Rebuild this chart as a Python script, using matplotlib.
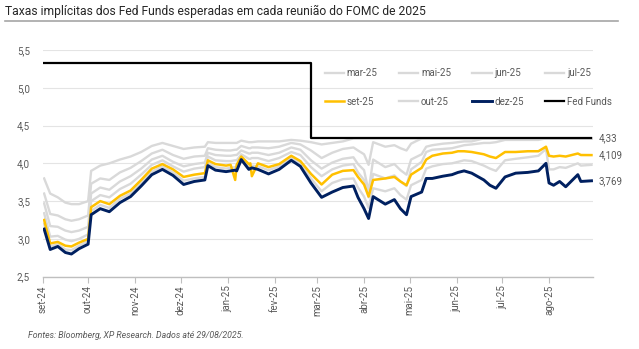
import matplotlib
matplotlib.use('Agg')
import matplotlib.pyplot as plt
import matplotlib.dates as mdates
from matplotlib.ticker import FuncFormatter
import pandas as pd

plt.rcParams['font.family'] = ['Roboto', 'DejaVu Sans']

# datas de amostragem (aprox. semanais, com pontos extras nos eventos)
datas = pd.to_datetime([
    '2024-09-02', '2024-09-06', '2024-09-11', '2024-09-16', '2024-09-20', '2024-09-25',
    '2024-10-01', '2024-10-03', '2024-10-09', '2024-10-15', '2024-10-22', '2024-10-29',
    '2024-11-05', '2024-11-12', '2024-11-19', '2024-11-26', '2024-12-03', '2024-12-10',
    '2024-12-17', '2024-12-19', '2024-12-24', '2024-12-31', '2025-01-03', '2025-01-06',
    '2025-01-07', '2025-01-10', '2025-01-15', '2025-01-16', '2025-01-17', '2025-01-21',
    '2025-01-28', '2025-02-04', '2025-02-12', '2025-02-18', '2025-02-25', '2025-03-04',
    '2025-03-11', '2025-03-18', '2025-03-25', '2025-03-28', '2025-04-01', '2025-04-04',
    '2025-04-07', '2025-04-15', '2025-04-21', '2025-04-25', '2025-04-29', '2025-05-02',
    '2025-05-09', '2025-05-12', '2025-05-16', '2025-05-23', '2025-05-29', '2025-06-02',
    '2025-06-06', '2025-06-11', '2025-06-19', '2025-06-23', '2025-06-27', '2025-07-03',
    '2025-07-10', '2025-07-18', '2025-07-25', '2025-07-30', '2025-08-01', '2025-08-04',
    '2025-08-08', '2025-08-12', '2025-08-20', '2025-08-22', '2025-08-29',
])

mar25 = [3.80, 3.60, 3.55, 3.48, 3.46, 3.46, 3.50, 3.90, 3.97, 4.00, 4.05, 4.09,
         4.15, 4.23, 4.27, 4.23, 4.19, 4.21, 4.22, 4.28, 4.27, 4.27, 4.27, 4.27,
         4.27, 4.30, 4.28, 4.28, 4.28, 4.29, 4.29, 4.29, 4.31, 4.30, 4.28, 4.25,
         4.27, 4.29, 4.33, 4.33, 4.33, 4.33, 4.33, 4.33, 4.33, 4.33, 4.33, 4.33,
         4.33, 4.33, 4.33, 4.33, 4.33, 4.33, 4.33, 4.33, 4.33, 4.33, 4.33, 4.33,
         4.33, 4.33, 4.33, 4.33, 4.33, 4.33, 4.33, 4.33, 4.33, 4.33, 4.33]
mai25 = [3.60, 3.33, 3.31, 3.26, 3.24, 3.26, 3.31, 3.73, 3.80, 3.78, 3.88, 3.94,
         4.03, 4.13, 4.18, 4.11, 4.06, 4.09, 4.10, 4.20, 4.18, 4.17, 4.17, 4.18,
         4.18, 4.23, 4.20, 4.20, 4.21, 4.21, 4.20, 4.22, 4.27, 4.25, 4.17, 4.07,
         4.14, 4.19, 4.21, 4.17, 4.12, 3.98, 4.28, 4.22, 4.24, 4.20, 4.17, 4.26,
         4.33, 4.33, 4.33, 4.33, 4.33, 4.33, 4.33, 4.33, 4.33, 4.33, 4.33, 4.33,
         4.33, 4.33, 4.33, 4.33, 4.33, 4.33, 4.33, 4.33, 4.33, 4.33, 4.33]
jun25 = [3.47, 3.17, 3.16, 3.11, 3.09, 3.11, 3.16, 3.60, 3.68, 3.65, 3.76, 3.83,
         3.93, 4.05, 4.10, 4.02, 3.96, 3.99, 4.01, 4.14, 4.11, 4.10, 4.10, 4.11,
         4.11, 4.17, 4.13, 4.13, 4.14, 4.14, 4.11, 4.14, 4.21, 4.18, 4.04, 3.93,
         4.01, 4.06, 4.08, 3.99, 3.91, 3.63, 4.05, 3.95, 3.99, 3.91, 3.85, 4.05,
         4.12, 4.22, 4.24, 4.26, 4.27, 4.28, 4.29, 4.29, 4.33, 4.33, 4.33, 4.33,
         4.33, 4.33, 4.33, 4.33, 4.33, 4.33, 4.33, 4.33, 4.33, 4.33, 4.33]
jul25 = [3.34, 3.03, 3.04, 2.99, 2.97, 3.00, 3.06, 3.50, 3.58, 3.55, 3.66, 3.73,
         3.85, 3.98, 4.04, 3.96, 3.89, 3.93, 3.95, 4.09, 4.04, 4.03, 4.03, 4.04,
         4.04, 4.12, 4.06, 4.06, 4.07, 4.07, 4.03, 4.07, 4.15, 4.11, 3.95, 3.83,
         3.92, 3.97, 3.99, 3.88, 3.78, 3.55, 3.86, 3.80, 3.84, 3.76, 3.70, 3.92,
         4.02, 4.15, 4.18, 4.19, 4.20, 4.22, 4.24, 4.25, 4.27, 4.27, 4.28, 4.31,
         4.31, 4.31, 4.31, 4.33, 4.33, 4.33, 4.33, 4.33, 4.33, 4.33, 4.33]
set25 = [3.25, 2.94, 2.96, 2.91, 2.90, 2.95, 3.00, 3.42, 3.50, 3.46, 3.57, 3.64,
         3.78, 3.93, 3.99, 3.92, 3.82, 3.85, 3.87, 4.04, 3.99, 3.97, 3.98, 3.78,
         3.98, 4.09, 3.99, 4.00, 3.83, 4.00, 3.95, 3.99, 4.10, 4.03, 3.86, 3.72,
         3.85, 3.90, 3.91, 3.82, 3.72, 3.56, 3.78, 3.80, 3.82, 3.76, 3.71, 3.85,
         3.94, 4.05, 4.10, 4.13, 4.14, 4.16, 4.16, 4.15, 4.12, 4.09, 4.07, 4.15,
         4.15, 4.16, 4.16, 4.22, 4.10, 4.09, 4.10, 4.09, 4.13, 4.11, 4.109]
out25 = [3.20, 2.90, 2.93, 2.86, 2.85, 2.91, 2.97, 3.37, 3.45, 3.41, 3.53, 3.60,
         3.74, 3.89, 3.96, 3.88, 3.77, 3.80, 3.82, 4.01, 3.95, 3.93, 3.94, 3.95,
         3.94, 4.07, 3.96, 3.97, 3.97, 3.96, 3.91, 3.96, 4.07, 4.00, 3.80, 3.63,
         3.74, 3.79, 3.80, 3.68, 3.56, 3.41, 3.67, 3.63, 3.67, 3.58, 3.52, 3.71,
         3.78, 3.93, 3.96, 3.99, 4.00, 4.02, 4.04, 4.03, 3.97, 3.93, 3.90, 4.04,
         4.06, 4.08, 4.10, 4.19, 3.92, 3.92, 3.95, 3.94, 4.00, 3.97, 3.98]
dez25 = [3.13, 2.86, 2.90, 2.82, 2.80, 2.87, 2.93, 3.32, 3.40, 3.36, 3.48, 3.56,
         3.70, 3.85, 3.92, 3.84, 3.72, 3.76, 3.78, 3.97, 3.91, 3.89, 3.90, 3.91,
         3.90, 4.05, 3.92, 3.93, 3.94, 3.92, 3.86, 3.92, 4.04, 3.96, 3.74, 3.55,
         3.62, 3.68, 3.70, 3.55, 3.40, 3.27, 3.56, 3.46, 3.52, 3.40, 3.32, 3.56,
         3.62, 3.80, 3.80, 3.83, 3.85, 3.88, 3.90, 3.87, 3.78, 3.71, 3.67, 3.82,
         3.87, 3.88, 3.90, 4.00, 3.74, 3.71, 3.76, 3.69, 3.85, 3.76, 3.769]

# Fed Funds (degrau)
ff_datas = pd.to_datetime(['2024-09-02', '2025-02-25', '2025-08-29'])
fed_funds = [5.33, 4.33, 4.33]

CINZA = '#d9d9d9'
OURO = '#ffc000'
AZUL = '#002060'
TXT = '#595959'

fig = plt.figure(figsize=(6.39, 3.49), dpi=100)
ax = fig.add_axes([0.0667, 0.2072, 0.8613, 0.6496])

l_mar, = ax.plot(datas, mar25, color=CINZA, lw=1.7)
l_mai, = ax.plot(datas, mai25, color=CINZA, lw=1.7)
l_jun, = ax.plot(datas, jun25, color=CINZA, lw=1.7)
l_jul, = ax.plot(datas, jul25, color=CINZA, lw=1.7)
l_out, = ax.plot(datas, out25, color=CINZA, lw=1.7)
l_set, = ax.plot(datas, set25, color=OURO, lw=1.8)
l_dez, = ax.plot(datas, dez25, color=AZUL, lw=2.1)
l_ff, = ax.plot(ff_datas, fed_funds, color='black', lw=1.6, drawstyle='steps-post')

ax.set_ylim(2.5, 5.5)
ax.set_yticks([2.5, 3.0, 3.5, 4.0, 4.5, 5.0, 5.5])
ax.yaxis.set_major_formatter(FuncFormatter(lambda v, p: f'{v:.1f}'.replace('.', ',')))
ax.set_xlim(pd.Timestamp('2024-09-01'), pd.Timestamp('2025-08-30'))
ax.xaxis.set_major_locator(mdates.MonthLocator())
meses = ['jan', 'fev', 'mar', 'abr', 'mai', 'jun', 'jul', 'ago', 'set', 'out', 'nov', 'dez']
ax.xaxis.set_major_formatter(FuncFormatter(
    lambda v, p: f"{meses[mdates.num2date(v).month - 1]}-{mdates.num2date(v).strftime('%y')}"))

for s in ['top', 'right', 'left']:
    ax.spines[s].set_visible(False)
ax.spines['bottom'].set_color('#bfbfbf')
ax.spines['bottom'].set_linewidth(1.0)
ax.grid(axis='y', color='#e4e4e4', lw=0.8)
ax.set_axisbelow(True)
ax.tick_params(axis='y', length=0, labelsize=7, labelcolor=TXT, pad=9)
ax.tick_params(axis='x', length=4, color='#bfbfbf', labelsize=7, labelcolor=TXT,
               labelrotation=90, pad=2)

# legenda em 2 linhas x 4 colunas
handles = [l_mar, l_set, l_mai, l_out, l_jun, l_dez, l_jul, l_ff]
labels = ['mar-25', 'set-25', 'mai-25', 'out-25', 'jun-25', 'dez-25', 'jul-25', 'Fed Funds']
leg = ax.legend(handles, labels, ncol=4, frameon=False, fontsize=7, labelcolor=TXT,
                handlelength=2.0, handletextpad=0.25, columnspacing=2.2,
                labelspacing=1.9, borderpad=0, loc='upper left',
                bbox_to_anchor=(320 / 639, 1 - 63.5 / 349), bbox_transform=fig.transFigure)

# rótulos dos últimos valores
for val, txt in [(4.33, '4,33'), (4.109, '4,109'), (3.769, '3,769')]:
    ax.annotate(txt, xy=(datas[-1], val), xytext=(5, 0), textcoords='offset points',
                fontsize=7, color=TXT, va='center', ha='left')

fig.text(5 / 639, 1 - 11 / 349, 'Taxas implícitas dos Fed Funds esperadas em cada reunião do FOMC de 2025',
         fontsize=8.7, color='#262626', va='center', ha='left')
fig.add_artist(plt.Line2D([5 / 639, 618 / 639], [1 - 21 / 349, 1 - 21 / 349],
                          color='#a6a6a6', lw=1.2, transform=fig.transFigure))
fig.text(28 / 639, 1 - 336 / 349, 'Fontes: Bloomberg, XP Research. Dados até 29/08/2025.',
         fontsize=6.3, style='italic', color=TXT, va='center', ha='left')

fig.savefig('out.png', dpi=100)
